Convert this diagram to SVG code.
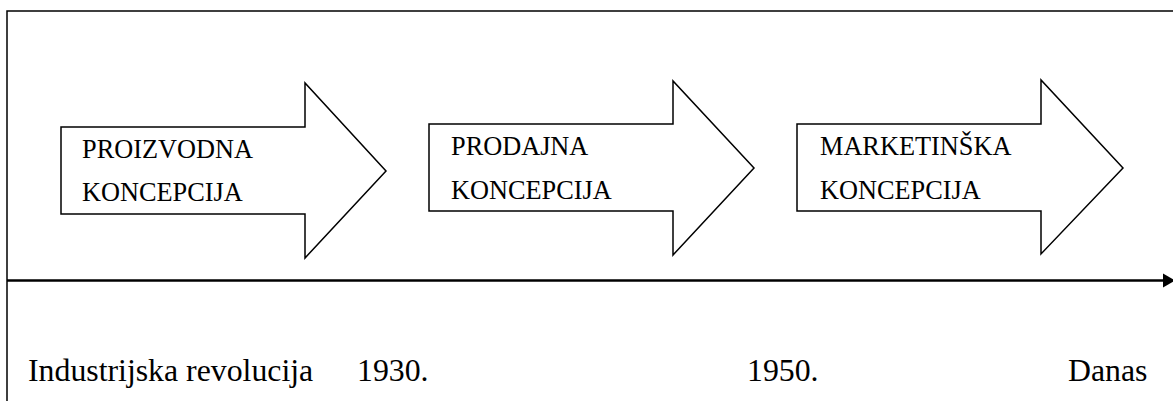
<svg xmlns="http://www.w3.org/2000/svg" width="1173" height="401" viewBox="0 0 1173 401">
<style>
.arrow{fill:#fff;stroke:#000;stroke-width:1.5;stroke-linejoin:miter}
.lbl{font-family:"Liberation Serif","Times New Roman",serif;font-size:26.3px;fill:#000}
.axis{font-family:"Liberation Serif","Times New Roman",serif;font-size:31.8px;fill:#000}
</style>
<rect x="0" y="0" width="1173" height="401" fill="#fff"/>
<g id="frame">
<path d="M7,401 V11 H1173" fill="none" stroke="#000" stroke-width="1.5"/>
</g>
<g id="connectors">
<line x1="7" y1="280.5" x2="1166" y2="280.5" stroke="#000" stroke-width="2.5"/>
<polygon points="1163,273.5 1175,280.5 1163,287.5" fill="#000"/>
</g>
<g id="node-proizvodna">
<polygon class="arrow" points="61,127 305,127 305,83 386,171 305,258 305,214 61,214"/>
<text class="lbl" x="82" y="158">PROIZVODNA</text>
<text class="lbl" x="82" y="201">KONCEPCIJA</text>
</g>
<g id="node-prodajna">
<polygon class="arrow" points="429,124 673,124 673,81 754,168 673,255 673,211 429,211"/>
<text class="lbl" x="451" y="155">PRODAJNA</text>
<text class="lbl" x="451" y="199">KONCEPCIJA</text>
</g>
<g id="node-marketinska">
<polygon class="arrow" points="797,124 1041,124 1041,80 1123,168 1041,254 1041,211 797,211"/>
<text class="lbl" x="820" y="155">MARKETINŠKA</text>
<text class="lbl" x="820" y="199">KONCEPCIJA</text>
</g>
<g id="axis-labels">
<text class="axis" x="28" y="381">Industrijska revolucija</text>
<text class="axis" x="357" y="381">1930.</text>
<text class="axis" x="747" y="381">1950.</text>
<text class="axis" x="1068" y="381">Danas</text>
</g>
</svg>
